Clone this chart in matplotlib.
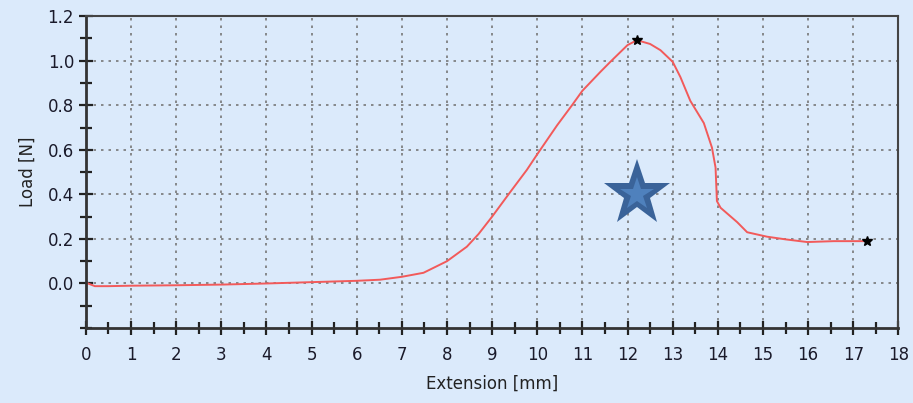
import numpy as np
import matplotlib.pyplot as plt
from matplotlib.ticker import MultipleLocator

# data
extension = [0.0, 0.05, 0.2, 0.5, 1.0, 2.0, 3.0, 4.0, 5.0, 6.0, 6.52, 7.0, 7.48, 8.0, 8.44,
             8.7, 9.0, 9.4, 9.77, 10.0, 10.44, 10.77, 11.0, 11.4, 11.62, 12.0, 12.21,
             12.5, 12.73, 13.0, 13.17, 13.39, 13.69, 13.87, 13.95, 13.98, 14.06, 14.43,
             14.65, 15.09, 15.5, 15.98, 16.57, 17.31]
load = [0.01, 0.0, -0.012, -0.012, -0.01, -0.008, -0.005, 0.0, 0.006, 0.012, 0.017, 0.03,
        0.048, 0.1, 0.165, 0.222, 0.3, 0.41, 0.51, 0.58, 0.71, 0.8, 0.865, 0.95,
        0.995, 1.07, 1.092, 1.075, 1.047, 0.995, 0.927, 0.82, 0.72, 0.61, 0.52, 0.37,
        0.34, 0.275, 0.23, 0.21, 0.198, 0.186, 0.19, 0.19]
key_x = [12.21, 17.31]
key_y = [1.095, 0.19]
star_x = [12.2]
star_y = [0.40]

bg = '#dbeafb'
fig = plt.figure(figsize=(9.13, 4.03), dpi=100, facecolor=bg)
ax = fig.add_axes([0.094, 0.186, 0.89, 0.774], facecolor=bg)

ax.plot(extension, load, color='#f25a5a', lw=1.4)
ax.plot(key_x, key_y, ls='none', marker='*', color='black', ms=7)

# pasted star shape: dark outer star with a lighter star inside
ax.plot(star_x, star_y, ls='none', marker='*', ms=50, mfc='#3a6399', mew=0, zorder=4)
ax.plot(star_x, star_y, ls='none', marker='*', ms=25, mfc='#4f81bd', mew=0, zorder=5)

ax.set_xlim(0, 18)
ax.set_ylim(-0.2, 1.2)
ax.xaxis.set_major_locator(MultipleLocator(1))
ax.xaxis.set_minor_locator(MultipleLocator(0.5))
ax.yaxis.set_minor_locator(MultipleLocator(0.1))
ax.set_yticks([0.0, 0.2, 0.4, 0.6, 0.8, 1.0, 1.2])
ax.set_yticklabels(['0.0', '0.2', '0.4', '0.6', '0.8', '1.0', '1.2'])

ax.grid(True, which='major', ls=(0, (1.5, 3)), color='#777777', lw=1.2)

for s in ['left', 'bottom']:
    ax.spines[s].set_linewidth(2)
    ax.spines[s].set_color('#333333')
for s in ['top', 'right']:
    ax.spines[s].set_linewidth(1.5)
    ax.spines[s].set_color('#444444')

ax.tick_params(which='both', direction='inout', color='#222222', width=1.6,
               labelsize=12, labelcolor='#1a1a2a')
ax.tick_params(which='major', length=10)
ax.tick_params(which='minor', length=8)
ax.tick_params(axis='x', pad=8)

ax.set_xlabel('Extension [mm]', fontsize=12, color='#222222', labelpad=8)
ax.set_ylabel('Load [N]', fontsize=12, color='#222222', labelpad=8)

fig.savefig('out.png', dpi=100, facecolor=bg)
